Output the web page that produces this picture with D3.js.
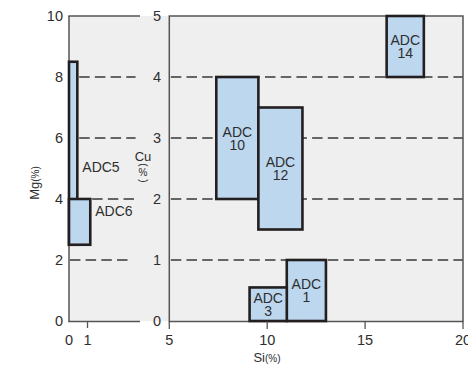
<!DOCTYPE html>
<html><head><meta charset="utf-8">
<script src="https://cdn.jsdelivr.net/npm/d3@7"></script>
<style>body{margin:0;background:#fff}svg{display:block;font-family:"Liberation Sans",Arial,sans-serif}</style>
</head><body><svg id="c" width="468" height="370"></svg>
<script>
// ---- data ----
const mgTicks = [0,2,4,6,8,10];
const cuTicks = [0,1,2,3,4,5];
const siTicks = [5,10,15,20];
const leftXTicks = [0,1];
const mgGrid = [8,6,4,2];
const cuGrid = [4,3,2,1];

const leftNames = ["ADC5","ADC6"];
const leftSi0 = [0,0];
const leftSi1 = [0.45,1.15];
const leftMg0 = [2.5,2.5];
const leftMg1 = [8.5,4];
const leftLabelMg = [5.05,3.6];

const rightNames = [["ADC","1"],["ADC","3"],["ADC","10"],["ADC","12"],["ADC","14"]];
const rightSi0 = [11,9.1,7.4,9.55,16.1];
const rightSi1 = [13,11,9.55,11.8,18];
const rightCu0 = [0,0,2,1.5,4];
const rightCu1 = [1,0.55,4,3.5,5];

// ---- scales ----
const svg = d3.select("#c");
const yL = d3.scaleLinear().domain([0,10]).range([321,16]);
const yR = d3.scaleLinear().domain([0,5]).range([321,16]);
const xL = d3.scaleLinear().domain([0,1]).range([69,87.5]);
const xR = d3.scaleLinear().domain([5,20]).range([169.3,463]);

const ink = "#231f20", txt = "#2e2e2e", fill = "#bdd7ef";

// background
svg.append("rect").attr("x",69).attr("y",16).attr("width",463-69).attr("height",321-16).attr("fill","#efefef");

// dashed grids
svg.selectAll(".gl").data(mgGrid).join("line")
  .attr("x1",d=>xL(d===4?1.25:(d===2?0.05:0.55))).attr("x2",d=>xL(d===2?3.25:3.6))
  .attr("y1",d=>yL(d)).attr("y2",d=>yL(d))
  .attr("stroke","#383838").attr("stroke-width",1.6).attr("stroke-dasharray","10.5,5.2");
svg.selectAll(".gr").data(cuGrid).join("line")
  .attr("x1",xR(5)+1.5).attr("x2",xR(20))
  .attr("y1",d=>yR(d)).attr("y2",d=>yR(d))
  .attr("stroke","#383838").attr("stroke-width",1.6).attr("stroke-dasharray","10.5,5.2");

// frames
const frame = svg.append("g").attr("stroke","#555").attr("stroke-width",1.5).attr("fill","none");
frame.append("line").attr("x1",69).attr("x2",69).attr("y1",16).attr("y2",321.5);
frame.append("line").attr("x1",68.3).attr("x2",140).attr("y1",16).attr("y2",16);
frame.append("line").attr("x1",68.3).attr("x2",140).attr("y1",321.5).attr("y2",321.5);
frame.append("rect").attr("x",xR(5)).attr("y",16).attr("width",xR(20)-xR(5)).attr("height",305.5);

// left rects
leftNames.forEach((n,i)=>{
  svg.append("rect").attr("x",xL(leftSi0[i])).attr("y",yL(leftMg1[i]))
    .attr("width",xL(leftSi1[i])-xL(leftSi0[i])).attr("height",yL(leftMg0[i])-yL(leftMg1[i]))
    .attr("fill",fill).attr("stroke",ink).attr("stroke-width",2.6);
  svg.append("text").attr("x",xL(leftSi1[i])+5).attr("y",yL(leftLabelMg[i]))
    .attr("dy","0.35em").attr("font-size",14).attr("fill",txt).text(n);
});

// right rects
rightNames.forEach((n,i)=>{
  const x0=xR(rightSi0[i]), x1=xR(rightSi1[i]), y0=yR(rightCu1[i]), y1=yR(rightCu0[i]);
  svg.append("rect").attr("x",x0).attr("y",y0).attr("width",x1-x0).attr("height",y1-y0)
    .attr("fill",fill).attr("stroke",ink).attr("stroke-width",2.6);
  const cx=(x0+x1)/2, cy=(y0+y1)/2;
  const t = svg.append("text").attr("x",cx).attr("text-anchor","middle").attr("font-size",14).attr("fill",txt);
  t.append("tspan").attr("x",cx).attr("y",cy-1.5).text(n[0]);
  t.append("tspan").attr("x",cx).attr("y",cy+11.5).text(n[1]);
});

// y tick labels
svg.selectAll(".ml").data(mgTicks).join("text")
  .attr("x",63).attr("y",d=>yL(d)).attr("dy","0.35em").attr("text-anchor","end")
  .attr("font-size",14.5).attr("fill",txt).text(d=>d);
svg.selectAll(".cl").data(cuTicks).join("text")
  .attr("x",161).attr("y",d=>yR(d)).attr("dy","0.35em").attr("text-anchor","end")
  .attr("font-size",14.5).attr("fill",txt).text(d=>d);

// x axes
svg.selectAll(".lt").data(leftXTicks.filter(d=>d>0)).join("line")
  .attr("x1",d=>xL(d)).attr("x2",d=>xL(d)).attr("y1",321.5).attr("y2",328)
  .attr("stroke","#555").attr("stroke-width",1.3);
svg.selectAll(".ltl").data(leftXTicks).join("text")
  .attr("x",d=>xL(d)).attr("y",345).attr("text-anchor","middle")
  .attr("font-size",14.5).attr("fill",txt).text(d=>d);
svg.selectAll(".rt").data(siTicks).join("line")
  .attr("x1",d=>xR(d)).attr("x2",d=>xR(d)).attr("y1",321.5).attr("y2",329)
  .attr("stroke","#555").attr("stroke-width",1.3);
svg.selectAll(".rtl").data(siTicks).join("text")
  .attr("x",d=>xR(d)).attr("y",345).attr("text-anchor","middle")
  .attr("font-size",14.5).attr("fill",txt).text(d=>d);

// axis titles
const si = svg.append("text").attr("x",267).attr("y",362).attr("text-anchor","middle").attr("fill",txt).attr("font-size",13);
si.append("tspan").text("Si");
si.append("tspan").attr("font-size",10).text("(%)");

const mg = svg.append("text").attr("transform","translate(39,183) rotate(-90)").attr("text-anchor","middle").attr("fill",txt).attr("font-size",13);
mg.append("tspan").text("Mg");
mg.append("tspan").attr("font-size",10).text("(%)");

svg.append("text").attr("x",143).attr("y",161).attr("text-anchor","middle").attr("fill",txt).attr("font-size",13).text("Cu");
svg.append("text").attr("transform","translate(143,165) rotate(90)").attr("text-anchor","middle").attr("dy","0.35em").attr("fill",txt).attr("font-size",10).text("(");
svg.append("text").attr("x",143).attr("y",176).attr("text-anchor","middle").attr("fill",txt).attr("font-size",10).text("%");
svg.append("text").attr("transform","translate(143,181) rotate(90)").attr("text-anchor","middle").attr("dy","0.35em").attr("fill",txt).attr("font-size",10).text(")");
</script></body></html>
